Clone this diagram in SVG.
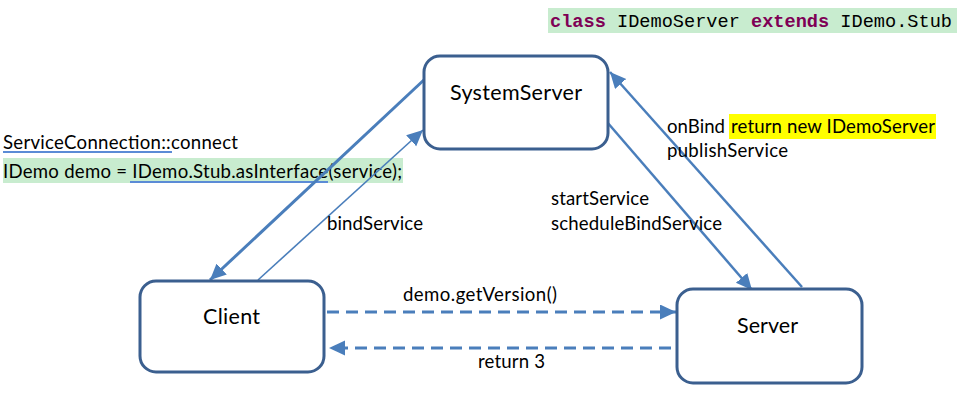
<svg xmlns="http://www.w3.org/2000/svg" width="957" height="408" viewBox="0 0 957 408">
<style>
.box{fill:#fff;stroke:#3b5f8f;stroke-width:3}
.lbl{font-family:Lato,"Liberation Sans",sans-serif;font-size:18.6px;fill:#000}
.ntx{font-family:Lato,"Liberation Sans",sans-serif;font-size:21.5px;fill:#000}
.code{font-family:"Liberation Mono",monospace;font-size:18.6px;fill:#000}
.kw{fill:#7f0055;font-weight:bold}
.ln{stroke:#4a7ebb;fill:none}
.ul{stroke:#5b8bd6;stroke-width:2}
</style>
<defs>
<marker id="ah" markerUnits="userSpaceOnUse" markerWidth="18" markerHeight="16" refX="16" refY="7.5" orient="auto">
<path d="M0,0 L16,7.5 L0,15 Z" fill="#4a7ebb"/>
</marker>
</defs>
<rect x="0" y="0" width="957" height="408" fill="#fff"/>
<g id="top-code">
<rect x="548" y="8" width="409" height="25" fill="#c8eccf"/>
<text class="code" x="550" y="27" textLength="402"><tspan class="kw">class</tspan> IDemoServer <tspan class="kw">extends</tspan> IDemo.Stub</text>
</g>
<g id="client-code">
<text class="lbl" x="3" y="149" textLength="235">ServiceConnection::connect</text>
<line class="ul" x1="3" y1="152" x2="172" y2="152"/>
<rect x="3" y="158" width="400" height="25" fill="#c8eccf"/>
<text class="lbl" x="3" y="178" textLength="399">IDemo demo = IDemo.Stub.asInterface(service);</text>
<line class="ul" x1="130" y1="182" x2="328" y2="182"/>
</g>
<g id="connectors">
<line class="ln" x1="426" y1="78" x2="210" y2="280" stroke-width="3" marker-end="url(#ah)"/>
<line class="ln" x1="258" y1="280" x2="423" y2="130" stroke-width="1.6" marker-end="url(#ah)"/>
<line class="ln" x1="607" y1="122" x2="752" y2="290" stroke-width="2.5" marker-end="url(#ah)"/>
<line class="ln" x1="802" y1="287" x2="610" y2="72" stroke-width="2.5" marker-end="url(#ah)"/>
<line class="ln" x1="327" y1="312" x2="676" y2="312" stroke-width="3" stroke-dasharray="12,7" marker-end="url(#ah)"/>
<line class="ln" x1="671" y1="348" x2="329" y2="348" stroke-width="3" stroke-dasharray="12,7" marker-end="url(#ah)"/>
<text class="lbl" x="327" y="230" textLength="96">bindService</text>
<text class="lbl" x="551" y="205" textLength="98">startService</text>
<text class="lbl" x="551" y="230" textLength="171">scheduleBindService</text>
<rect x="729" y="114" width="207" height="25" fill="#ffff00"/>
<text class="lbl" x="667" y="133" textLength="58">onBind</text>
<text class="lbl" x="731" y="133" textLength="204">return new IDemoServer</text>
<text class="lbl" x="667" y="157" textLength="121">publishService</text>
<text class="lbl" x="403" y="301" textLength="154">demo.getVersion()</text>
<text class="lbl" x="478" y="368" textLength="67">return 3</text>
</g>
<g id="SystemServer">
<rect class="box" x="424" y="56" width="184" height="93" rx="16"/>
<text class="ntx" x="450" y="100" textLength="132">SystemServer</text>
</g>
<g id="Client">
<rect class="box" x="140" y="281" width="184" height="91" rx="16"/>
<text class="ntx" x="203" y="324" textLength="57">Client</text>
</g>
<g id="Server">
<rect class="box" x="677" y="289" width="185" height="94" rx="16"/>
<text class="ntx" x="737" y="333" textLength="61">Server</text>
</g>
</svg>
